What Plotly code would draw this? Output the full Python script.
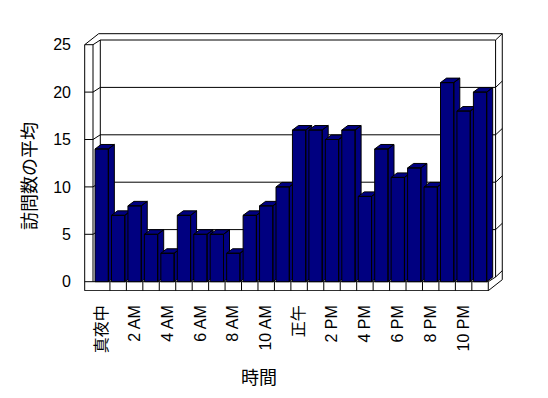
import plotly.graph_objects as go

# ---- data ----
hours = list(range(24))
visits = [14, 7, 8, 5, 3, 7, 5, 5, 3, 7, 8, 10, 16, 16, 15, 16, 9, 14, 11, 12, 10, 21, 18, 20]
tick_pos = [0, 2, 4, 6, 8, 10, 12, 14, 16, 18, 20, 22]
tick_text = ["真夜中", "2 AM", "4 AM", "6 AM", "8 AM", "10 AM", "正午",
             "2 PM", "4 PM", "6 PM", "8 PM", "10 PM"]
y_ticks = [0, 5, 10, 15, 20, 25]
y_title = "訪問数の平均"
x_title = "時間"

# ---- layout geometry (pixels) ----
W, H = 548, 398
ML, MR, MT, MB = 84, 45, 33, 107
PX_PER_X = 16.45          # px per category
PX_PER_Y = 9.48           # px per unit value
X0_PX = 101.7             # px of category 0 center
Y0_PX = 281.7             # px of value 0 (front plane)

plot_w = W - ML - MR
plot_h = H - MT - MB
x_range = [(ML - X0_PX) / PX_PER_X, (W - MR - X0_PX) / PX_PER_X]
y_range = [(Y0_PX - (H - MB)) / PX_PER_Y, (Y0_PX - MT) / PX_PER_Y]

def ux(px):
    return px / PX_PER_X

def uy(px):
    return px / PX_PER_Y

# 3D geometry in data units
hw = ux(6.65)                 # bar half width
bdx, bdy = ux(6.0), uy(4.5)   # bar depth
Dx, Dy = ux(7.3), uy(4.7)     # chart depth
Tx, Ty = ux(6.7), uy(6.3)     # back wall thickness
xa = (84.7 - X0_PX) / PX_PER_X   # left wall outer
xb = (93.0 - X0_PX) / PX_PER_X   # left wall inner
xr = len(hours) - 0.5            # floor right end
fy = -uy(9.0)                    # floor thickness
ytop = y_ticks[-1]

navy = "#000080"
shapes = []

def line(x0, y0, x1, y1):
    shapes.append(dict(type="line", xref="x", yref="y", x0=x0, y0=y0, x1=x1, y1=y1,
                       line=dict(color="black", width=1), layer="below"))

# back wall inner rectangle
line(xb + Dx, Dy, xb + Dx, ytop + Dy)
line(xb + Dx, ytop + Dy, xr + Dx, ytop + Dy)
line(xr + Dx, ytop + Dy, xr + Dx, Dy)
# back wall outer edges
line(xa + Dx + Tx, ytop + Dy + Ty, xr + Dx + Tx, ytop + Dy + Ty)
line(xr + Dx + Tx, ytop + Dy + Ty, xr + Dx + Tx, fy + Dy + Ty)
line(xr + Dx, ytop + Dy, xr + Dx + Tx, ytop + Dy + Ty)
line(xa, ytop, xa + Dx + Tx, ytop + Dy + Ty)
line(xb, ytop, xb + Dx, ytop + Dy)
# gridlines on back wall and edges
for g in y_ticks[:-1]:
    if g > 0:
        line(xb + Dx, g + Dy, xr + Dx, g + Dy)
        line(xb, g, xb + Dx, g + Dy)
    line(xr + Dx, g + Dy, xr + Dx + Tx, g + Dy + Ty)
# left wall front face
line(xa, fy, xa, ytop)
line(xb, 0, xb, ytop)
for g in y_ticks:
    line(xa, g, xb, g)
# floor front face
line(xa, fy, xr, fy)
line(xb, 0, xr, 0)
line(xr, fy, xr, 0)
for k in hours[:-1]:
    line(k + 0.5, fy, k + 0.5, 0)
# floor right side
line(xr, fy, xr + Dx + Tx, fy + Dy + Ty)
line(xr, 0, xr + Dx, Dy)

fig = go.Figure()
for i, v in zip(hours, visits):
    xs, ys = [], []
    # side face
    xs += [i + hw, i + hw + bdx, i + hw + bdx, i + hw, i + hw, None]
    ys += [0, bdy, v + bdy, v, 0, None]
    # top face
    xs += [i - hw, i + hw, i + hw + bdx, i - hw + bdx, i - hw, None]
    ys += [v, v, v + bdy, v + bdy, v, None]
    # front face
    xs += [i - hw, i + hw, i + hw, i - hw, i - hw]
    ys += [0, 0, v, v, 0]
    fig.add_trace(go.Scatter(x=xs, y=ys, mode="lines", fill="toself",
                             fillcolor=navy, line=dict(color="black", width=1),
                             hoverinfo="skip", showlegend=False))

def paper_x(px):
    return (px - ML) / plot_w

def paper_y(py):
    return (H - MB - py) / plot_h

font_family = "Liberation Sans, Arial, Noto Sans CJK JP, sans-serif"
annotations = [
    dict(text=y_title, xref="paper", yref="paper", x=paper_x(28), y=paper_y(176),
         textangle=-90, showarrow=False, xanchor="center", yanchor="middle",
         font=dict(size=18, color="black", family="Noto Sans CJK JP")),
    dict(text=x_title, xref="paper", yref="paper", x=paper_x(259), y=paper_y(376),
         showarrow=False, xanchor="center", yanchor="middle",
         font=dict(size=18, color="black", family="Noto Sans CJK JP")),
]

fig.update_layout(
    width=W, height=H,
    margin=dict(l=ML, r=MR, t=MT, b=MB, pad=0),
    paper_bgcolor="white", plot_bgcolor="white",
    shapes=shapes, annotations=annotations,
    font=dict(family=font_family, size=16, color="black"),
    xaxis=dict(range=x_range, tickmode="array", tickvals=tick_pos, ticktext=tick_text,
               tickangle=-90, showgrid=False, zeroline=False, showline=False,
               ticks="", ticklabelstandoff=10, fixedrange=True),
    yaxis=dict(range=y_range, tickmode="array", tickvals=y_ticks,
               ticktext=[str(t) for t in y_ticks],
               showgrid=False, zeroline=False, showline=False,
               ticks="", ticklabelstandoff=12, fixedrange=True),
)

fig.write_html("out.html")
